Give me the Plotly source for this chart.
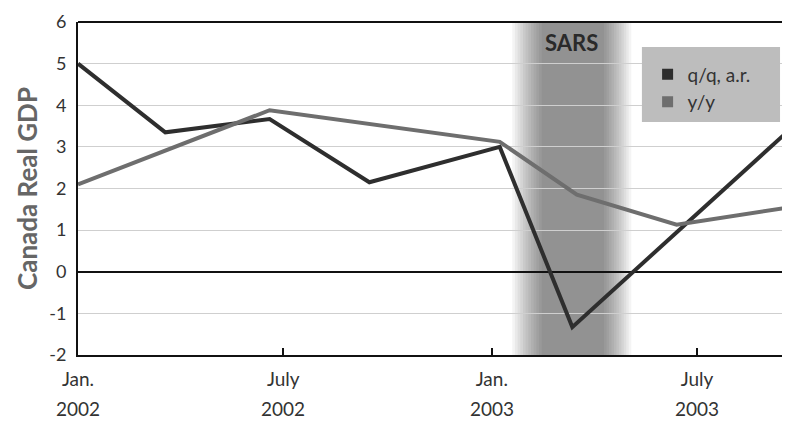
import plotly.graph_objects as go
import pandas as pd

# ---- data ----
qq_dates = ["2002-01-01", "2002-03-19", "2002-06-19", "2002-09-15", "2003-01-08", "2003-03-13", "2003-09-21"]
qq_values = [5.0, 3.35, 3.67, 2.15, 3.0, -1.33, 3.42]

yy_dates = ["2002-01-01", "2002-06-19", "2003-01-08", "2003-03-17", "2003-06-13", "2003-09-21"]
yy_values = [2.1, 3.88, 3.12, 1.85, 1.13, 1.55]

tick_dates = ["2002-01-01", "2002-07-01", "2003-01-01", "2003-07-01"]
tick_months = ["Jan.", "July", "Jan.", "July"]
tick_years = ["2002", "2002", "2003", "2003"]

y_ticks = [-2, -1, 0, 1, 2, 3, 4, 5, 6]
y_ticktext = ["-2", "-1", "0", "1", "2", "3", "4", "5", "6"]

sars_start = "2003-01-19"
sars_end = "2003-05-04"
sars_core_start = "2003-02-14"
sars_core_end = "2003-04-10"
sars_label_date = "2003-03-12"

x_range = ["2002-01-01", "2003-09-21"]

QQ_COLOR = "#2e2e2e"
YY_COLOR = "#6e6e6e"
FONT = "Lato"

fig = go.Figure()
fig.add_trace(go.Scatter(x=qq_dates, y=qq_values, mode="lines",
                         line=dict(color=QQ_COLOR, width=4), showlegend=False))
fig.add_trace(go.Scatter(x=yy_dates, y=yy_values, mode="lines",
                         line=dict(color=YY_COLOR, width=4), showlegend=False))
# legend entries with square swatches
fig.add_trace(go.Scatter(x=[None], y=[None], mode="markers", name="q/q, a.r.",
                         marker=dict(symbol="square", size=11, color=QQ_COLOR), legendgroup="a"))
fig.add_trace(go.Scatter(x=[None], y=[None], mode="markers", name="y/y",
                         marker=dict(symbol="square", size=11, color=YY_COLOR), legendgroup="b"))

# SARS shaded band (soft-edged via nested translucent rectangles)
s0, s1 = pd.Timestamp(sars_start), pd.Timestamp(sars_end)
c0, c1 = pd.Timestamp(sars_core_start), pd.Timestamp(sars_core_end)
n = 12
for i in range(n):
    f = i / (n - 1)
    fig.add_shape(type="rect", xref="x", yref="paper",
                  x0=s0 + (c0 - s0) * f, x1=s1 - (s1 - c1) * f, y0=0, y1=1,
                  fillcolor="black", opacity=0.042, line_width=0, layer="below")

fig.add_annotation(x=sars_label_date, y=1, xref="x", yref="paper", yanchor="top", yshift=-5,
                   text="<b>SARS</b>", showarrow=False,
                   font=dict(family=FONT, size=22, color="#2a2a2a"))

# top border
fig.add_shape(type="line", xref="paper", yref="paper", x0=0, x1=1, y0=1, y1=1,
              line=dict(color="#111", width=2), layer="above")
# legend box
fig.add_shape(type="rect", xref="paper", yref="paper", x0=0.792, x1=0.986, y0=0.70, y1=0.925,
              fillcolor="#bdbdbd", line_width=0, layer="above")

for d, yr in zip(tick_dates, tick_years):
    fig.add_annotation(x=d, y=0, xref="x", yref="paper", yanchor="top", yshift=-40,
                       text=yr, showarrow=False,
                       font=dict(family=FONT, size=19, color="#333"))

# page body has an 8px default margin: size the figure so the plot lands at the reference spot
fig.update_layout(
    width=782, height=416,
    margin=dict(l=70, r=0, t=14, b=69, autoexpand=False),
    paper_bgcolor="white", plot_bgcolor="rgba(0,0,0,0)",
    font=dict(family=FONT, color="#333"),
    legend=dict(x=0.8, y=0.9, xanchor="left", yanchor="top",
                bgcolor="rgba(0,0,0,0)", font=dict(family=FONT, size=19, color="#333"),
                traceorder="grouped", tracegroupgap=0),
    xaxis=dict(range=x_range, tickvals=tick_dates, ticktext=tick_months, automargin=False,
               showgrid=False, showline=True, linecolor="#111", linewidth=2,
               ticks="inside", ticklen=7, tickwidth=1.5, tickcolor="#111",
               ticklabelstandoff=6,
               tickfont=dict(family=FONT, size=19, color="#333"), zeroline=False),
    yaxis=dict(range=[-2, 6], tickvals=y_ticks, ticktext=y_ticktext, automargin=False,
               showgrid=True, gridcolor="#cfcfcf", gridwidth=1,
               zeroline=True, zerolinecolor="#111", zerolinewidth=1.5,
               showline=True, linecolor="#111", linewidth=2, ticks="",
               ticklabelstandoff=6,
               tickfont=dict(family=FONT, size=18, color="#333"),
               title=dict(text="<b>Canada Real GDP</b>", standoff=4,
                          font=dict(family=FONT, size=26, color="#666"))),
)

fig.write_html("out.html")
